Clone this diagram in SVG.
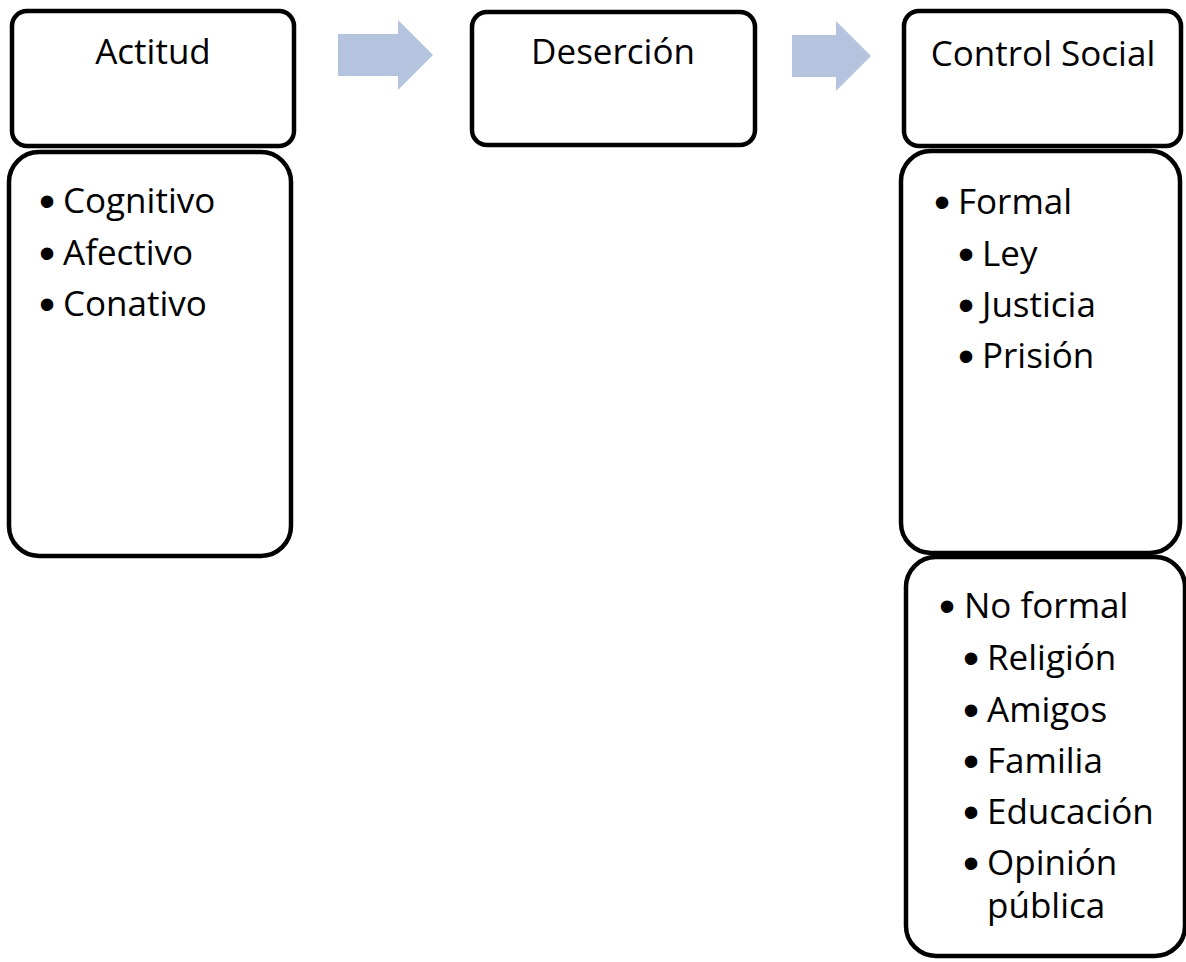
<svg xmlns="http://www.w3.org/2000/svg" width="1186" height="962" viewBox="0 0 1186 962">
<style>
.box{fill:#fff;stroke:#000;stroke-width:4.5}
.t{font-family:"Open Sans","Liberation Sans",sans-serif;font-size:35px;fill:#000}
.h{text-anchor:middle}
.b{font-family:"Liberation Sans",sans-serif;font-size:46px;text-anchor:middle}
.arrow{fill:#B4C4DF}
</style>
<rect width="1186" height="962" fill="#fff"/>
<g id="connectors">
<polygon class="arrow" points="338,34 398,34 398,20 433,55 398,90 398,76 338,76"/>
<polygon class="arrow" points="792,35 836,35 836,21 871,56 836,91 836,77 792,77"/>
</g>
<g id="actitud">
<rect class="box" x="12" y="11" width="282" height="135" rx="15"/>
<text class="t h" x="153" y="64">Actitud</text>
</g>
<g id="actitud-list">
<rect class="box" x="9" y="152" width="282" height="404" rx="30"/>
<text class="t" y="213"><tspan class="b" x="47" dy="4">•</tspan><tspan x="63" dy="-4">Cognitivo</tspan></text>
<text class="t" y="265"><tspan class="b" x="47" dy="4">•</tspan><tspan x="63" dy="-4">Afectivo</tspan></text>
<text class="t" y="316"><tspan class="b" x="47" dy="4">•</tspan><tspan x="63" dy="-4">Conativo</tspan></text>
</g>
<g id="desercion">
<rect class="box" x="472" y="12" width="283" height="133" rx="15"/>
<text class="t h" x="613" y="64">Deserción</text>
</g>
<g id="control-social">
<rect class="box" x="904" y="11" width="277" height="135" rx="15"/>
<text class="t h" x="1043" y="66">Control Social</text>
</g>
<g id="formal">
<rect class="box" x="901" y="151" width="279" height="402" rx="30"/>
<text class="t" y="214"><tspan class="b" x="942" dy="4">•</tspan><tspan x="958" dy="-4">Formal</tspan></text>
<text class="t" y="266"><tspan class="b" x="966" dy="4">•</tspan><tspan x="982" dy="-4">Ley</tspan></text>
<text class="t" y="317"><tspan class="b" x="966" dy="4">•</tspan><tspan x="982" dy="-4">Justicia</tspan></text>
<text class="t" y="368"><tspan class="b" x="966" dy="4">•</tspan><tspan x="982" dy="-4">Prisión</tspan></text>
</g>
<g id="no-formal">
<rect class="box" x="906" y="557" width="279" height="399" rx="30"/>
<text class="t" y="618"><tspan class="b" x="947" dy="4">•</tspan><tspan x="964" dy="-4">No formal</tspan></text>
<text class="t" y="670"><tspan class="b" x="971" dy="4">•</tspan><tspan x="987" dy="-4">Religión</tspan></text>
<text class="t" y="722"><tspan class="b" x="971" dy="4">•</tspan><tspan x="987" dy="-4">Amigos</tspan></text>
<text class="t" y="773"><tspan class="b" x="971" dy="4">•</tspan><tspan x="987" dy="-4">Familia</tspan></text>
<text class="t" y="824"><tspan class="b" x="971" dy="4">•</tspan><tspan x="987" dy="-4">Educación</tspan></text>
<text class="t" y="875"><tspan class="b" x="971" dy="4">•</tspan><tspan x="987" dy="-4">Opinión</tspan></text>
<text class="t" x="987" y="918">pública</text>
</g>
</svg>
